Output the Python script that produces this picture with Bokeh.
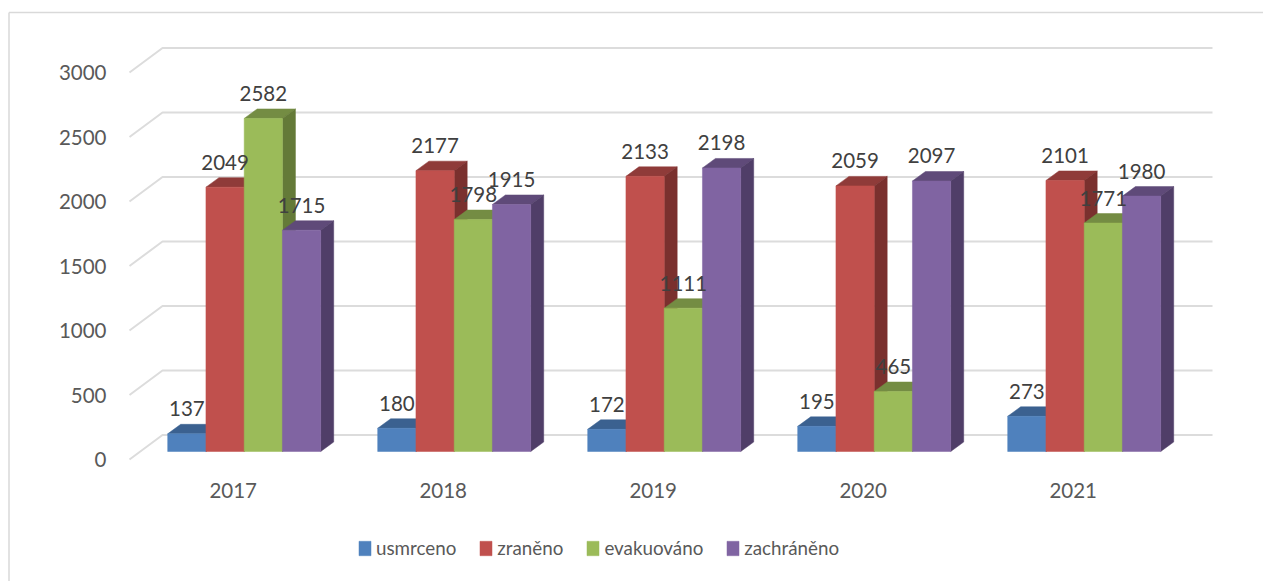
from bokeh.embed import file_html
from bokeh.resources import INLINE
from bokeh.plotting import figure
from bokeh.models import Range1d, LinearAxis, FixedTicker, Legend, LegendItem, NumeralTickFormatter
from bokeh.core.properties import value

years = [2017, 2018, 2019, 2020, 2021]
usmrceno = [137, 180, 172, 195, 273]
zraneno = [2049, 2177, 2133, 2059, 2101]
evakuovano = [2582, 1798, 1111, 465, 1771]
zachraneno = [1715, 1915, 2198, 2097, 1980]
series_names = ["usmrceno", "zraněno", "evakuováno", "zachráněno"]
series_values = [usmrceno, zraneno, evakuovano, zachraneno]
front_colors = ["#4F81BD", "#C0504D", "#9BBB59", "#8064A2"]
top_colors = ["#3B6190", "#8F3B39", "#748C43", "#5F4A79"]
side_colors = ["#324F73", "#7A302E", "#647A38", "#503E68"]
y_ticks = [0, 500, 1000, 1500, 2000, 2500, 3000]

W, H = 1263, 581
PX_X = 210.0          # pixels per year
PX_Y = 0.129          # pixels per unit
X0_PAGE, Y0_PAGE = 243.7, 451.0   # page position of 2017 centre / value 0


def xv(page_x):
    return 2017 + (page_x - X0_PAGE) / PX_X


def yv(page_y):
    return (Y0_PAGE - page_y) / PX_Y


p = figure(width=W, height=H, output_backend="svg", toolbar_location=None,
           x_range=Range1d(xv(0), xv(W)), y_range=Range1d(yv(H), yv(0)),
           min_border=0, min_border_left=0, min_border_right=0, min_border_top=0, min_border_bottom=0,
           x_axis_type=None, y_axis_type=None)
p.outline_line_color = None
p.xgrid.visible = False
p.ygrid.visible = False
p.background_fill_color = "white"

# chart border (left and top only are visible)
p.line([xv(8.5), xv(8.5)], [yv(H), yv(12)], line_color="#D9D9D9", line_width=1.5)
p.line([xv(8.5), xv(W)], [yv(12), yv(12)], line_color="#D9D9D9", line_width=1.5)

# wall gridlines
DX, DY = 13 / PX_X, 9.5 / PX_Y
WALL_L, WALL_R, FRONT_L = xv(162), xv(1212), xv(129)
WALL_OFF = (451 - 434.5) / PX_Y
FRONT_OFF = (451 - 459) / PX_Y
for t in y_ticks:
    p.line([FRONT_L, WALL_L, WALL_R], [t + FRONT_OFF, t + WALL_OFF, t + WALL_OFF],
           line_color="#DCDCDC", line_width=2)

# bars
BW = 38.25 / PX_X
legend_items = []
label_x, label_y, label_t = [], [], []
for s, (name, vals) in enumerate(zip(series_names, series_values)):
    offs = (s - 2) * BW
    tx, ty, sx, sy = [], [], [], []
    l, r = [], []
    for yr, v in zip(years, vals):
        x1 = yr + offs
        x2 = x1 + BW
        l.append(x1)
        r.append(x2)
        tx.append([x1, x1 + DX, x2 + DX, x2])
        ty.append([v, v + DY, v + DY, v])
        sx.append([x2, x2 + DX, x2 + DX, x2])
        sy.append([0, DY, v + DY, v])
        label_x.append((x1 + x2) / 2)
        label_y.append(v + 25 / PX_Y)
        label_t.append(str(v))
    p.patches(tx, ty, fill_color=top_colors[s], line_color=top_colors[s], line_width=0.5)
    p.patches(sx, sy, fill_color=side_colors[s], line_color=side_colors[s], line_width=0.5)
    q = p.quad(left=l, right=r, bottom=[0] * len(vals), top=vals,
               fill_color=front_colors[s], line_color=front_colors[s], line_width=0.5)
    legend_items.append(LegendItem(label=name, renderers=[q]))

p.text(x=label_x, y=label_y, text=label_t, text_font=value("Lato"), text_font_size="20.5px",
       text_color="#404040", text_align="center", text_baseline="middle")

# value axis: labels sit on the front edge of the floor
p.extra_y_ranges["front"] = Range1d(yv(H) - FRONT_OFF, yv(0) - FRONT_OFF)
ya = LinearAxis(y_range_name="front", fixed_location=xv(112), ticker=FixedTicker(ticks=y_ticks))
ya.axis_line_color = None
ya.major_tick_line_color = None
ya.minor_tick_line_color = None
ya.major_tick_out = 0
ya.major_label_standoff = 6
ya.major_label_text_font = "Lato"
ya.major_label_text_font_size = "20.5px"
ya.major_label_text_color = "#595959"
p.add_layout(ya, "left")

# category axis
p.extra_x_ranges["cat"] = Range1d(xv(0) + 11 / PX_X, xv(W) + 11 / PX_X)
xa = LinearAxis(x_range_name="cat", fixed_location=yv(477), ticker=FixedTicker(ticks=years),
                formatter=NumeralTickFormatter(format="0"))
xa.axis_line_color = None
xa.major_tick_line_color = None
xa.minor_tick_line_color = None
xa.major_tick_out = 0
xa.major_label_standoff = 5
xa.major_label_text_font = "Lato"
xa.major_label_text_font_size = "20.5px"
xa.major_label_text_color = "#595959"
p.add_layout(xa, "below")

legend = Legend(items=legend_items, orientation="horizontal", location=(357, H - 559),
                background_fill_alpha=0, border_line_color=None, margin=0, padding=0,
                glyph_width=15, glyph_height=18, label_standoff=4, spacing=22,
                label_text_font="Lato", label_text_font_size="18.8px", label_text_color="#595959",
                label_height=14, label_width=10)
p.add_layout(legend, "center")

open("out.html", "w").write(file_html(p, INLINE))
